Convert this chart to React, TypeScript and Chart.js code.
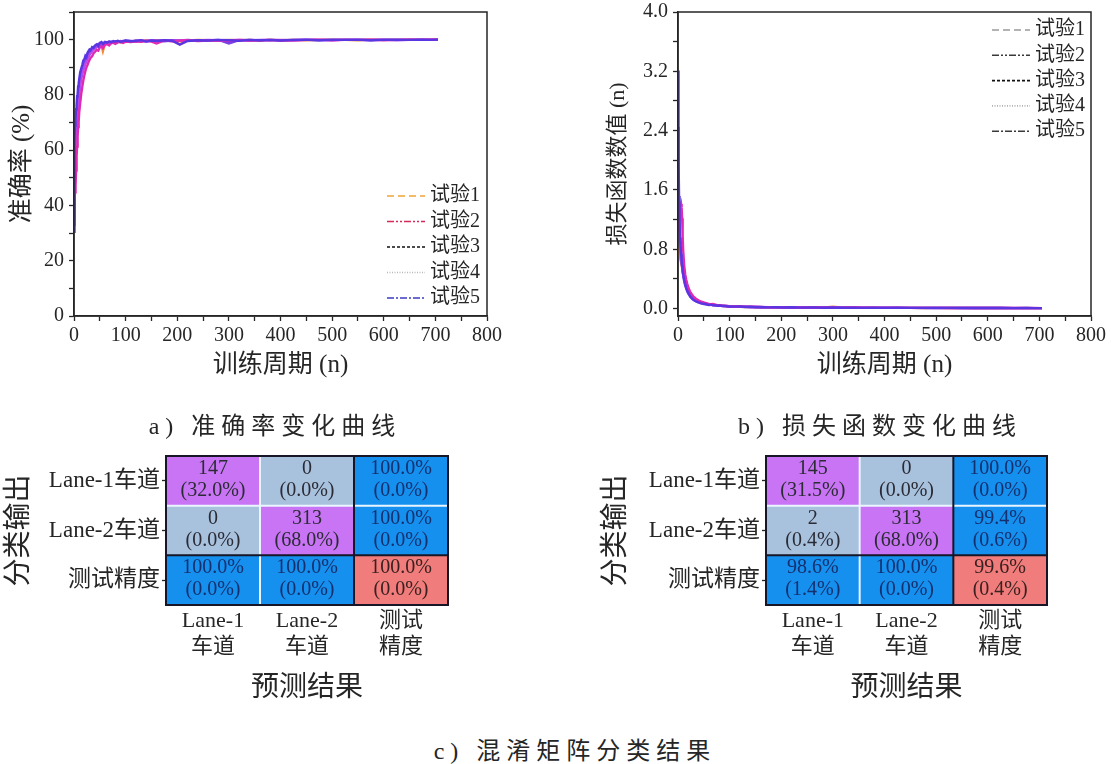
import React, { useEffect, useRef } from 'react';
import { Chart, registerables } from 'chart.js';

Chart.register(...registerables);

const SERIF = "'Liberation Serif', 'Noto Sans CJK SC', serif";
const INK = '#262626';

// ---------- training curves ----------
const trialNames = ['试验1', '试验2', '试验3', '试验4', '试验5'];

const epochs = [
  0, 1, 2, 3, 4, 5, 6, 7, 8, 9, 10, 12,
  14, 16, 18, 20, 22, 24, 26, 28, 30, 32, 35, 38,
  41, 44, 47, 50, 53, 56, 60, 64, 68, 72, 76, 80,
  85, 90, 95, 100, 110, 120, 130, 140, 150, 160, 175, 190,
  205, 220, 240, 260, 280, 300, 320, 340, 360, 380, 400, 425,
  450, 475, 500, 525, 550, 575, 600, 625, 650, 675, 690, 705,
];

const acc1 = [
  35.2, 55.4, 60.1, 64.3, 67.9, 70.5, 72.8, 75.1, 77.6, 79.0, 81.2, 84.5,
  86.3, 88.0, 89.4, 90.6, 91.5, 92.8, 93.2, 94.1, 94.9, 95.3, 96.0, 96.6,
  97.1, 97.5, 97.9, 98.2, 98.0, 95.8, 98.6, 98.9, 98.7, 99.1, 98.8, 99.2,
  99.4, 99.0, 99.3, 99.5, 99.2, 99.6, 99.4, 99.7, 99.5, 99.8, 99.6, 99.7,
  98.4, 99.7, 99.9, 99.8, 99.7, 99.9, 99.8, 99.9, 99.7, 99.9, 99.8, 99.9,
  99.8, 99.9, 100.0, 99.9, 99.8, 100.0, 99.9, 99.9, 100.0, 99.9, 100.0, 100.0,
];
const acc2 = [
  38.0, 42.5, 44.8, 47.1, 52.6, 57.9, 61.3, 65.0, 68.4, 70.2, 73.5, 77.1,
  80.4, 82.9, 85.2, 87.0, 88.6, 89.9, 90.7, 91.8, 92.6, 93.4, 94.0, 95.1,
  95.6, 96.3, 96.0, 97.2, 97.6, 96.9, 98.1, 98.4, 97.9, 98.7, 98.9, 98.5,
  99.0, 99.2, 98.8, 99.3, 99.1, 99.4, 99.2, 99.6, 99.3, 98.6, 99.7, 99.4,
  99.6, 99.8, 99.5, 99.7, 99.8, 99.6, 99.9, 99.7, 99.8, 99.9, 99.7, 99.8,
  99.9, 100.0, 99.8, 99.9, 99.9, 100.0, 99.8, 99.9, 100.0, 99.9, 100.0, 100.0,
];
const acc3 = [
  33.0, 58.6, 63.5, 66.2, 70.1, 72.4, 74.9, 77.3, 79.2, 81.5, 82.7, 85.9,
  87.4, 89.1, 90.3, 91.7, 92.2, 93.5, 94.3, 94.8, 95.5, 96.2, 96.8, 97.4,
  97.2, 97.9, 98.4, 98.1, 98.6, 98.9, 98.7, 99.1, 98.8, 99.3, 99.0, 99.4,
  99.2, 99.5, 99.3, 99.6, 99.5, 99.3, 99.7, 99.5, 99.8, 99.6, 99.4, 99.8,
  99.7, 99.9, 99.6, 99.8, 99.9, 98.6, 99.8, 99.9, 99.7, 99.9, 99.8, 99.9,
  99.9, 99.8, 100.0, 99.9, 99.9, 99.8, 100.0, 99.9, 99.9, 100.0, 99.9, 100.0,
];
const acc4 = [
  36.4, 50.2, 57.8, 62.0, 65.7, 68.3, 71.6, 73.9, 76.4, 78.8, 80.1, 83.2,
  85.8, 87.5, 88.9, 90.1, 91.3, 92.0, 93.0, 93.7, 94.4, 95.0, 95.7, 96.3,
  96.9, 97.3, 97.8, 98.0, 98.5, 98.2, 98.8, 98.6, 99.0, 98.9, 99.2, 99.1,
  99.3, 99.4, 99.1, 99.5, 99.3, 99.6, 99.5, 99.4, 99.7, 99.6, 99.8, 99.5,
  99.7, 99.8, 99.7, 99.9, 99.6, 99.8, 99.9, 99.7, 99.9, 99.8, 99.9, 99.7,
  99.9, 99.9, 99.8, 100.0, 99.9, 99.9, 100.0, 99.8, 99.9, 100.0, 100.0, 100.0,
];
const acc5 = [
  30.5, 63.2, 68.9, 71.5, 74.8, 76.2, 79.5, 80.3, 83.1, 84.0, 85.6, 88.2,
  89.5, 90.8, 92.4, 92.9, 94.1, 93.6, 95.2, 95.8, 96.4, 96.1, 97.3, 97.0,
  97.9, 98.3, 97.6, 98.8, 99.1, 98.4, 99.2, 98.9, 99.4, 99.0, 99.5, 99.3,
  99.6, 99.2, 99.5, 99.7, 99.4, 99.6, 99.8, 99.3, 99.7, 99.5, 99.8, 99.6,
  98.2, 99.5, 99.8, 99.7, 99.9, 99.8, 99.6, 99.9, 99.8, 99.9, 99.7, 99.9,
  100.0, 99.8, 99.9, 99.9, 100.0, 99.8, 99.9, 100.0, 99.9, 100.0, 99.9, 100.0,
];

const loss1 = [
  0.82, 0.78, 0.74, 0.71, 0.69, 0.66, 0.62, 0.59, 0.55, 0.51, 0.48, 0.42,
  0.37, 0.32, 0.28, 0.25, 0.22, 0.20, 0.18, 0.16, 0.15, 0.13, 0.12, 0.105,
  0.095, 0.088, 0.081, 0.074, 0.069, 0.063, 0.058, 0.053, 0.049, 0.051, 0.044, 0.041,
  0.038, 0.034, 0.031, 0.029, 0.027, 0.024, 0.022, 0.025, 0.020, 0.018, 0.019, 0.016,
  0.015, 0.014, 0.016, 0.013, 0.012, 0.024, 0.011, 0.012, 0.010, 0.011, 0.009, 0.010,
  0.009, 0.008, 0.009, 0.008, 0.007, 0.008, 0.007, 0.007, 0.006, 0.007, 0.006, 0.006,
];
const loss2 = [
  1.05, 1.12, 1.20, 1.28, 1.33, 1.38, 1.41, 1.36, 1.22, 0.98, 0.79, 0.58,
  0.46, 0.39, 0.33, 0.29, 0.25, 0.22, 0.20, 0.18, 0.16, 0.15, 0.13, 0.12,
  0.105, 0.098, 0.089, 0.082, 0.076, 0.071, 0.064, 0.058, 0.061, 0.052, 0.048, 0.045,
  0.041, 0.038, 0.035, 0.032, 0.028, 0.030, 0.025, 0.023, 0.021, 0.022, 0.019, 0.018,
  0.016, 0.018, 0.015, 0.014, 0.016, 0.013, 0.012, 0.014, 0.011, 0.012, 0.010, 0.011,
  0.009, 0.010, 0.009, 0.008, 0.009, 0.007, 0.008, 0.007, 0.007, 0.006, 0.007, 0.006,
];
const loss3 = [
  2.45, 1.72, 1.31, 1.05, 0.90, 0.79, 0.70, 0.63, 0.57, 0.50, 0.45, 0.37,
  0.31, 0.27, 0.23, 0.20, 0.18, 0.16, 0.14, 0.13, 0.12, 0.11, 0.10, 0.092,
  0.084, 0.077, 0.070, 0.066, 0.059, 0.062, 0.053, 0.050, 0.046, 0.043, 0.045, 0.039,
  0.036, 0.033, 0.034, 0.030, 0.027, 0.025, 0.026, 0.021, 0.023, 0.019, 0.020, 0.017,
  0.016, 0.015, 0.014, 0.015, 0.013, 0.012, 0.013, 0.011, 0.012, 0.010, 0.011, 0.009,
  0.010, 0.008, 0.009, 0.008, 0.008, 0.007, 0.007, 0.008, 0.006, 0.007, 0.006, 0.006,
];
const loss4 = [
  1.86, 1.44, 1.15, 0.97, 0.86, 0.77, 0.69, 0.62, 0.56, 0.50, 0.46, 0.40,
  0.35, 0.30, 0.26, 0.23, 0.20, 0.18, 0.17, 0.15, 0.14, 0.12, 0.11, 0.10,
  0.091, 0.083, 0.076, 0.070, 0.066, 0.060, 0.056, 0.051, 0.048, 0.044, 0.041, 0.043,
  0.037, 0.035, 0.032, 0.029, 0.031, 0.026, 0.024, 0.022, 0.024, 0.020, 0.018, 0.019,
  0.016, 0.017, 0.014, 0.015, 0.013, 0.014, 0.012, 0.011, 0.013, 0.010, 0.011, 0.009,
  0.010, 0.009, 0.008, 0.009, 0.007, 0.008, 0.008, 0.007, 0.007, 0.006, 0.006, 0.006,
];
const loss5 = [
  3.21, 2.05, 1.52, 1.18, 0.96, 0.85, 0.74, 0.66, 0.58, 0.52, 0.47, 0.39,
  0.33, 0.28, 0.24, 0.21, 0.19, 0.16, 0.15, 0.13, 0.12, 0.11, 0.095, 0.088,
  0.079, 0.072, 0.068, 0.061, 0.064, 0.055, 0.049, 0.052, 0.043, 0.046, 0.039, 0.041,
  0.035, 0.037, 0.031, 0.029, 0.026, 0.028, 0.022, 0.024, 0.019, 0.021, 0.017, 0.019,
  0.015, 0.017, 0.013, 0.016, 0.012, 0.014, 0.011, 0.013, 0.010, 0.012, 0.009, 0.011,
  0.009, 0.010, 0.008, 0.009, 0.007, 0.009, 0.007, 0.008, 0.006, 0.008, 0.006, 0.006,
];

const epochTicks = [0, 50, 100, 150, 200, 250, 300, 350, 400, 450, 500, 550, 600, 650, 700, 750, 800];
const epochLabels = [0, 100, 200, 300, 400, 500, 600, 700, 800];
const accTicks = [0, 10, 20, 30, 40, 50, 60, 70, 80, 90, 100, 110];
const accLabels = [0, 20, 40, 60, 80, 100];
const lossTicks = [0, 0.4, 0.8, 1.2, 1.6, 2.0, 2.4, 2.8, 3.2, 3.6, 4.0];
const lossLabels = [0, 0.8, 1.6, 2.4, 3.2, 4.0];

// curve colours and stacking (lower order is painted last)
const curveColors = ['#F08A3C', '#E02AB4', '#7B3FE4', '#B04CF0', '#5A36E2'];
const drawOrder = [5, 2, 4, 3, 1];
// legend key styles
const accKeyColors = ['#F0A43A', '#D42A5A', '#111111', '#B8B8B8', '#3B3BC4'];
const lossKeyColors = ['#9A9A9A', '#3A3A3A', '#111111', '#B0B0B0', '#3A3A3A'];
const keyDashes = [[7, 4], [7, 2, 2, 2, 2, 2], [3, 2], [1, 1.5], [7, 2, 2, 2]];

// ---------- confusion matrices ----------
const predLabels = [['Lane-1', '车道'], ['Lane-2', '车道'], ['测试', '精度']];
const outLabels = ['Lane-1车道', 'Lane-2车道', '测试精度'];

const countsA = [[147, 0], [0, 313]];
const sharesA = [[32.0, 0.0], [0.0, 68.0]];
const rowAccA = [100.0, 100.0];
const colAccA = [100.0, 100.0];
const totalAccA = 100.0;

const countsB = [[145, 0], [2, 313]];
const sharesB = [[31.5, 0.0], [0.4, 68.0]];
const rowAccB = [100.0, 99.4];
const colAccB = [98.6, 100.0];
const totalAccB = 99.6;

const cellColors = { diag: '#C874F4', off: '#A8C2DE', sum: '#1590EE', total: '#F07D7B' };
const cellInk = { diag: '#2B2B35', off: '#2B2B35', sum: '#15306E', total: '#3A2020' };

// ---------- plugins ----------
const framePlugin = {
  id: 'frame',
  afterDatasetsDraw(chart: any, _a: any, opts: any) {
    const { ctx, chartArea } = chart;
    const { left, top, right, bottom } = chartArea;
    ctx.save();
    ctx.strokeStyle = opts.color || INK;
    ctx.lineWidth = opts.width || 1.5;
    ctx.strokeRect(left, top, right - left, bottom - top);
    ctx.restore();
  },
};

const lineKeyPlugin = {
  id: 'lineKey',
  afterDraw(chart: any, _a: any, opts: any) {
    const { ctx, chartArea } = chart;
    chart.data.datasets.forEach((ds: any, i: number) => {
      const x0 = chartArea.right - opts.dx;
      const y = opts.corner === 'top'
        ? chartArea.top + opts.dy + i * opts.gap
        : chartArea.bottom - opts.dy + i * opts.gap;
      ctx.save();
      ctx.strokeStyle = ds.keyColor;
      ctx.lineWidth = 1.6;
      ctx.setLineDash(ds.keyDash);
      ctx.beginPath();
      ctx.moveTo(x0, y);
      ctx.lineTo(x0 + opts.len, y);
      ctx.stroke();
      ctx.setLineDash([]);
      ctx.fillStyle = INK;
      ctx.font = `20px ${SERIF}`;
      ctx.textBaseline = 'middle';
      ctx.textAlign = 'left';
      ctx.fillText(ds.label, x0 + opts.len + 5, y);
      ctx.restore();
    });
  },
};

const cellTextPlugin = {
  id: 'cellText',
  afterDatasetsDraw(chart: any) {
    const { ctx, chartArea } = chart;
    const xs = chart.scales.x;
    const ys = chart.scales.y;
    ctx.save();
    // separators
    const line = (x1: number, y1: number, x2: number, y2: number, color: string) => {
      ctx.strokeStyle = color;
      ctx.lineWidth = 2;
      ctx.beginPath();
      ctx.moveTo(x1, y1);
      ctx.lineTo(x2, y2);
      ctx.stroke();
    };
    const light = '#EAF5FF';
    const dark = '#161626';
    line(xs.getPixelForValue(0.5), chartArea.top, xs.getPixelForValue(0.5), chartArea.bottom, light);
    line(chartArea.left, ys.getPixelForValue(2), chartArea.right, ys.getPixelForValue(2), light);
    line(xs.getPixelForValue(1.5), chartArea.top, xs.getPixelForValue(1.5), chartArea.bottom, dark);
    line(chartArea.left, ys.getPixelForValue(1), chartArea.right, ys.getPixelForValue(1), dark);
    ctx.strokeStyle = dark;
    ctx.lineWidth = 2;
    ctx.strokeRect(chartArea.left, chartArea.top, chartArea.right - chartArea.left, chartArea.bottom - chartArea.top);
    // cell captions
    ctx.font = `20px ${SERIF}`;
    ctx.textAlign = 'center';
    ctx.textBaseline = 'middle';
    chart.data.datasets.forEach((ds: any, d: number) => {
      const meta = chart.getDatasetMeta(d);
      meta.data.forEach((bar: any, c: number) => {
        const { x, y, base } = bar.getProps(['x', 'y', 'base'], true);
        const cy = (y + base) / 2;
        const [a, b] = ds.cellText[c];
        ctx.fillStyle = ds.textColor[c];
        ctx.fillText(a, x, cy - 12);
        ctx.fillText(b, x, cy + 10);
      });
    });
    ctx.restore();
  },
};

// ---------- configs ----------
function curveConfig(opts: any) {
  const { series, keyColors, yTicks, yLabels, yMin, yMax, yTitle, yTitleSize, yTitlePad, yFmt, padRight, yWidth, key } = opts;
  return {
    type: 'line',
    data: {
      datasets: series.map((vals: number[], i: number) => ({
        label: trialNames[i],
        data: epochs.map((e, k) => ({ x: e, y: vals[k] })),
        borderColor: curveColors[i],
        borderWidth: 2.4,
        pointRadius: 0,
        tension: 0,
        fill: false,
        order: drawOrder[i],
        keyColor: keyColors[i],
        keyDash: keyDashes[i],
      })),
    },
    options: {
      responsive: false,
      animation: false,
      events: [],
      layout: { autoPadding: false, padding: { left: 0, top: 12, right: padRight, bottom: 0 } },
      plugins: {
        legend: { display: false },
        tooltip: { enabled: false },
        frame: { color: INK, width: 1.5 },
        lineKey: key,
      },
      scales: {
        x: {
          type: 'linear',
          min: 0,
          max: 800,
          afterBuildTicks: (s: any) => { s.ticks = epochTicks.map((v) => ({ value: v })); },
          afterFit: (s: any) => { s.height = 74; s.paddingLeft = 0; s.paddingRight = 0; },
          ticks: {
            autoSkip: false,
            maxRotation: 0,
            padding: 3,
            color: INK,
            font: { family: SERIF, size: 20 },
            callback: (v: number) => (epochLabels.includes(v) ? String(v) : ''),
          },
          grid: { drawOnChartArea: false, tickLength: 5, tickColor: INK, tickWidth: 1.3 },
          border: { color: INK, width: 1.5 },
          title: {
            display: true,
            text: '训练周期 (n)',
            color: INK,
            font: { family: SERIF, size: 25 },
            padding: { top: 0, bottom: 10 },
          },
        },
        y: {
          type: 'linear',
          min: yMin,
          max: yMax,
          afterBuildTicks: (s: any) => { s.ticks = yTicks.map((v: number) => ({ value: v })); },
          afterFit: (s: any) => { s.width = yWidth; s.paddingTop = 0; s.paddingBottom = 0; },
          ticks: {
            autoSkip: false,
            padding: 5,
            color: INK,
            font: { family: SERIF, size: 20 },
            callback: (v: number) => (yLabels.some((l: number) => Math.abs(l - v) < 1e-6) ? yFmt(v) : ''),
          },
          grid: { drawOnChartArea: false, tickLength: 5, tickColor: INK, tickWidth: 1.3 },
          border: { color: INK, width: 1.5 },
          title: {
            display: true,
            text: yTitle,
            color: INK,
            font: { family: SERIF, size: yTitleSize },
            padding: { top: yTitlePad, bottom: 0 },
          },
        },
      },
    },
    plugins: [framePlugin, lineKeyPlugin],
  };
}

function cellLines(m: any, r: number, c: number) {
  if (r < 2 && c < 2) return [String(m.counts[r][c]), `(${m.shares[r][c].toFixed(1)}%)`];
  const v = r < 2 ? m.rowAcc[r] : c < 2 ? m.colAcc[c] : m.total;
  return [`${v.toFixed(1)}%`, `(${(100 - v).toFixed(1)}%)`];
}
function cellKind(r: number, c: number) {
  if (r < 2 && c < 2) return r === c ? 'diag' : 'off';
  if (r === 2 && c === 2) return 'total';
  return 'sum';
}

function matrixConfig(m: any, yWidth: number, padRight: number, yTitlePad: number) {
  const cols = [0, 1, 2];
  // stacked from bottom: dataset 0 is the lowest row
  const datasets = [2, 1, 0].map((r) => ({
    label: outLabels[r],
    data: cols.map(() => 1),
    backgroundColor: cols.map((c) => (cellColors as any)[cellKind(r, c)]),
    textColor: cols.map((c) => (cellInk as any)[cellKind(r, c)]),
    cellText: cols.map((c) => cellLines(m, r, c)),
    borderWidth: 0,
    barPercentage: 1,
    categoryPercentage: 1,
  }));
  return {
    type: 'bar',
    data: { labels: predLabels, datasets },
    options: {
      responsive: false,
      animation: false,
      events: [],
      layout: { autoPadding: false, padding: { left: 0, top: 16, right: padRight, bottom: 0 } },
      plugins: { legend: { display: false }, tooltip: { enabled: false } },
      scales: {
        x: {
          type: 'category',
          stacked: true,
          offset: true,
          z: 1,
          afterFit: (s: any) => { s.height = 105; s.paddingLeft = 0; s.paddingRight = 0; },
          ticks: {
            autoSkip: false,
            maxRotation: 0,
            padding: 10,
            color: INK,
            font: { family: SERIF, size: 22, lineHeight: 1.15 },
          },
          grid: { offset: false, drawOnChartArea: false, tickLength: -6, tickColor: '#161626', tickWidth: 1.5 },
          border: { display: false },
          title: {
            display: true,
            text: '预测结果',
            color: INK,
            font: { family: SERIF, size: 28 },
            padding: { top: 0, bottom: 5 },
          },
        },
        y: {
          type: 'linear',
          stacked: true,
          min: 0,
          max: 3,
          z: 1,
          afterBuildTicks: (s: any) => { s.ticks = [0.5, 1.5, 2.5].map((v) => ({ value: v })); },
          afterFit: (s: any) => { s.width = yWidth; s.paddingTop = 0; s.paddingBottom = 0; },
          ticks: {
            autoSkip: false,
            padding: 2,
            color: INK,
            font: { family: SERIF, size: 23 },
            callback: (v: number) => outLabels[2 - Math.floor(v)],
          },
          grid: { drawOnChartArea: false, tickLength: 4, tickColor: INK, tickWidth: 1.3 },
          border: { display: false },
          title: {
            display: true,
            text: '分类输出',
            color: INK,
            font: { family: SERIF, size: 28 },
            padding: { top: yTitlePad, bottom: 0 },
          },
        },
      },
    },
    plugins: [cellTextPlugin],
  };
}

const captionStyle: React.CSSProperties = {
  position: 'absolute',
  transform: 'translate(-50%, -50%)',
  fontFamily: SERIF,
  fontSize: 24,
  letterSpacing: 6,
  color: INK,
  whiteSpace: 'nowrap',
};

export default function App() {
  const accRef = useRef<HTMLCanvasElement>(null);
  const lossRef = useRef<HTMLCanvasElement>(null);
  const matARef = useRef<HTMLCanvasElement>(null);
  const matBRef = useRef<HTMLCanvasElement>(null);

  useEffect(() => {
    const charts = [
      new Chart(accRef.current as any, curveConfig({
        series: [acc1, acc2, acc3, acc4, acc5],
        keyColors: accKeyColors,
        yTicks: accTicks,
        yLabels: accLabels,
        yMin: 0,
        yMax: 110,
        yTitle: '准确率 (%)',
        yTitleSize: 25,
        yTitlePad: 7,
        yFmt: (v: number) => String(v),
        padRight: 68,
        yWidth: 74,
        key: { corner: 'bottom', dx: 100, dy: 120, gap: 25.5, len: 38 },
      }) as any),
      new Chart(lossRef.current as any, curveConfig({
        series: [loss1, loss2, loss3, loss4, loss5],
        keyColors: lossKeyColors,
        yTicks: lossTicks,
        yLabels: lossLabels,
        yMin: -0.1,
        yMax: 4.0,
        yTitle: '损失函数数值 (n)',
        yTitleSize: 22,
        yTitlePad: 9,
        yFmt: (v: number) => v.toFixed(1),
        padRight: 20,
        yWidth: 82,
        key: { corner: 'top', dx: 99, dy: 18, gap: 25.3, len: 38 },
      }) as any),
      new Chart(matARef.current as any, matrixConfig(
        { counts: countsA, shares: sharesA, rowAcc: rowAccA, colAcc: colAccA, total: totalAccA }, 166, 52, 3) as any),
      new Chart(matBRef.current as any, matrixConfig(
        { counts: countsB, shares: sharesB, rowAcc: rowAccB, colAcc: colAccB, total: totalAccB }, 176, 64, 10) as any),
    ];
    return () => charts.forEach((c) => c.destroy());
  }, []);

  return (
    <div style={{ position: 'absolute', left: 0, top: 0, width: 1111, height: 764, background: '#fff', overflow: 'hidden' }}>
      <canvas ref={accRef} width={555} height={390} style={{ position: 'absolute', left: 0, top: 0 }} />
      <canvas ref={lossRef} width={515} height={390} style={{ position: 'absolute', left: 596, top: 0 }} />
      <canvas ref={matARef} width={500} height={270} style={{ position: 'absolute', left: 0, top: 440 }} />
      <canvas ref={matBRef} width={521} height={270} style={{ position: 'absolute', left: 590, top: 440 }} />
      <div style={{ ...captionStyle, left: 275, top: 423 }}>a) 准确率变化曲线</div>
      <div style={{ ...captionStyle, left: 880, top: 423 }}>b) 损失函数变化曲线</div>
      <div style={{ ...captionStyle, left: 575, top: 748 }}>c) 混淆矩阵分类结果</div>
    </div>
  );
}
